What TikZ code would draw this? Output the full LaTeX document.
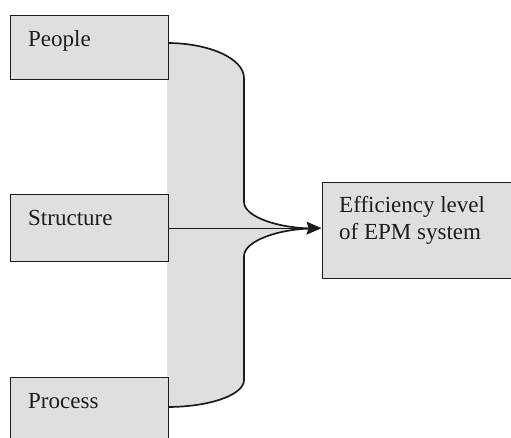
\documentclass[tikz,border=0pt]{standalone}
\usepackage{fontspec}
\setmainfont{Liberation Serif}
\usetikzlibrary{arrows.meta}
\definecolor{boxgray}{RGB}{222,223,225}
\definecolor{linecol}{RGB}{30,28,30}
\begin{document}
\begin{tikzpicture}[x=1pt,y=-1pt,
  box/.style={draw=linecol,fill=boxgray,line width=1.3pt,rectangle,inner sep=0pt,anchor=north west},
  lbl/.style={anchor=base west,inner sep=0pt,font=\fontsize{23}{27}\selectfont,text=linecol,align=left},
  curve/.style={draw=linecol,line width=1.7pt},
  arr/.style={draw=linecol,line width=1.2pt,-{Stealth[length=15pt,width=13pt,inset=2pt]}}]
\useasboundingbox (0,0) rectangle (511,438);
\clip (0,0) rectangle (511,438);
% gray band
\fill[boxgray] (167,43) .. controls (209.5,43) and (244,58.7) .. (244,78)
  -- (244,202) .. controls (244,217) and (279,228.5) .. (322,228.5)
  .. controls (279,228.5) and (244,241) .. (244,256)
  -- (244,380) .. controls (244,395) and (209.5,407) .. (167,407) -- cycle;
\draw[curve] (167,43) .. controls (209.5,43) and (244,58.7) .. (244,78)
  -- (244,202) .. controls (244,217) and (279,228.5) .. (314,228.5);
\draw[curve] (314,228.5) .. controls (279,228.5) and (244,241) .. (244,256)
  -- (244,380) .. controls (244,395) and (209.5,407) .. (167,407);
% boxes
\node[box,minimum width=158pt,minimum height=64pt] (p) at (9.5,15) {};
\node[box,minimum width=158pt,minimum height=67pt] (s) at (9.5,194) {};
\node[box,minimum width=158pt,minimum height=80pt] (r) at (9.5,377) {};
\node[box,minimum width=189pt,minimum height=96pt] (e) at (321.5,182) {};
% labels
\node[lbl] (pt) at (28,46.5) {People};
\node[lbl] (st) at (28,226) {Structure};
\node[lbl] (rt) at (28,408) {Process};
\node[lbl] (et) at (339,240) {Efficiency level\\of EPM system};
% arrow
\draw[arr] (s.east) -- (s.east -| e.west);
\end{tikzpicture}
\end{document}
